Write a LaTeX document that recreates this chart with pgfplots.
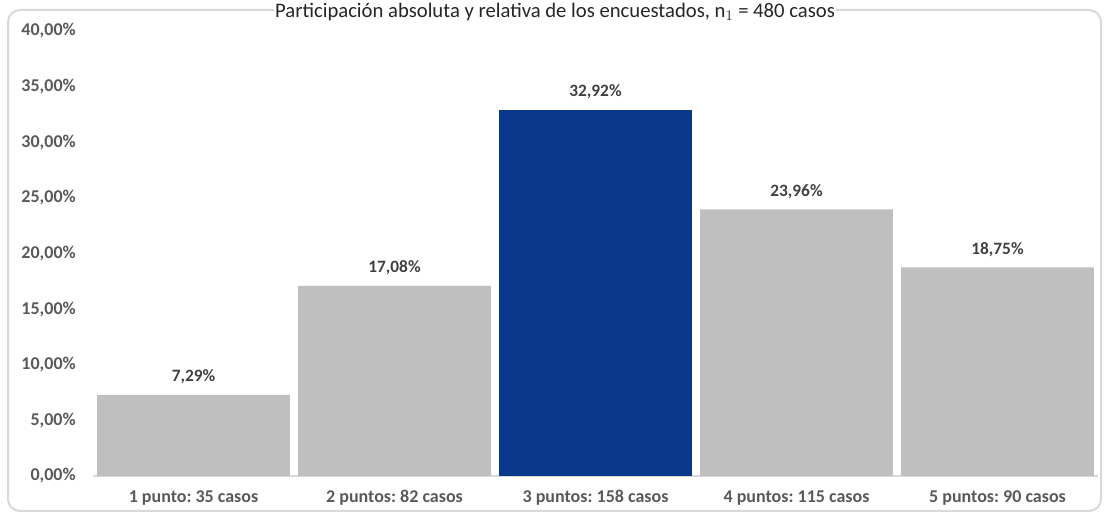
\documentclass[border=0pt]{standalone}
\usepackage{pgfplots}
\pgfplotsset{compat=1.18}
\usepackage{fontspec}
\setmainfont{Carlito}
\frenchspacing
\definecolor{barg}{HTML}{BFBFBF}
\definecolor{barb}{HTML}{0A398C}
\definecolor{txt}{HTML}{595959}
\definecolor{lbl}{HTML}{404040}
\definecolor{frm}{HTML}{D9D9D9}
\begin{document}
\begin{tikzpicture}
\useasboundingbox (0pt,0pt) rectangle (830.25pt,385.5pt);
\draw[frm, line width=1.5pt, rounded corners=9pt] (6pt,2.25pt) rectangle (825.75pt,378pt);
\begin{axis}[
  at={(69.75pt,28.5pt)}, anchor=south west,
  scale only axis, width=753.75pt, height=333.75pt,
  xmin=-0.5, xmax=4.5, ymin=0, ymax=40,
  ybar, bar width=0.96, bar shift=0pt,
  axis lines=left, axis line style={-},
  x axis line style={draw=frm, line width=0.8pt},
  y axis line style={draw=none},
  major tick length=0pt,
  xtick={0,1,2,3,4},
  xticklabels={1 punto: 35 casos, 2 puntos: 82 casos, 3 puntos: 158 casos, 4 puntos: 115 casos, 5 puntos: 90 casos},
  ytick={0,5,...,40},
  /pgf/number format/assume math mode=true,
  yticklabel={\pgfmathprintnumber[fixed,fixed zerofill,precision=2,use comma]{\tick}\%},
  ticklabel style={font=\fontsize{13.5}{15}\selectfont\bfseries, text=txt, inner sep=0pt},
  yticklabel style={anchor=east, xshift=-12.75pt},
  xticklabel style={anchor=base, yshift=-20.25pt},
  nodes near coords={\pgfmathprintnumber[fixed,fixed zerofill,precision=2,use comma]{\pgfplotspointmeta}\%},
  nodes near coords style={font=\fontsize{13}{15}\selectfont\bfseries, text=lbl, anchor=base, inner sep=0pt, yshift=10pt},
  clip=false,
]
\addplot[fill=barg, draw=none] coordinates {(0,7.29) (1,17.08) (3,23.96) (4,18.75)};
\addplot[fill=barb, draw=none] coordinates {(2,32.92)};
\end{axis}
\node[anchor=base, font=\fontsize{15.5}{18}\selectfont, text=black!85, fill=white, inner sep=1pt] at (416.25pt,372.5pt) {Participación absoluta y relativa de los encuestados, n$_1$ = 480 casos};
\end{tikzpicture}
\end{document}
